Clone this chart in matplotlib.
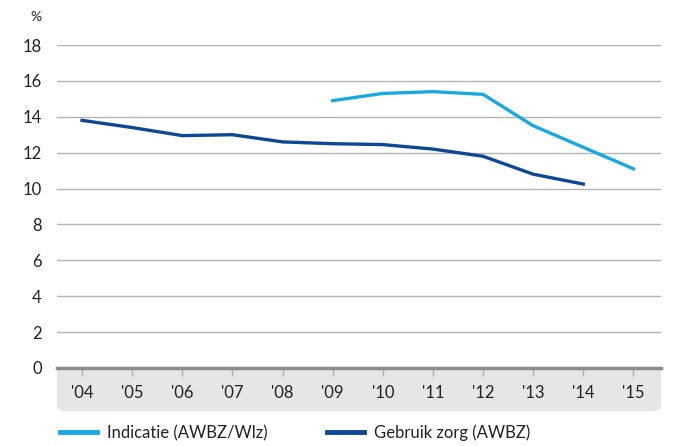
import matplotlib
matplotlib.use("Agg")
import matplotlib.pyplot as plt
from matplotlib.patches import FancyBboxPatch
from matplotlib.lines import Line2D

plt.rcParams["font.family"] = ["Lato", "DejaVu Sans"]

# --- data ------------------------------------------------------------------
YEARS = [2004, 2005, 2006, 2007, 2008, 2009, 2010, 2011, 2012, 2013, 2014, 2015]
YEAR_LABELS = ["'04", "'05", "'06", "'07", "'08", "'09", "'10", "'11", "'12", "'13", "'14", "'15"]

INDICATIE_YEARS = [2009, 2010, 2011, 2012, 2013, 2014, 2015]
INDICATIE = [14.9, 15.3, 15.4, 15.25, 13.5, 12.3, 11.1]

GEBRUIK_YEARS = [2004, 2005, 2006, 2007, 2008, 2009, 2010, 2011, 2012, 2013, 2014]
GEBRUIK = [13.8, 13.4, 12.95, 13.0, 12.6, 12.5, 12.45, 12.2, 11.8, 10.8, 10.25]

LIGHT = "#17a9e0"
DARK = "#0c4893"

W, H = 673, 446
fig = plt.figure(figsize=(W / 100, H / 100), dpi=100)
left, right, bottom, top = 57, 661, 368, 45
ax = fig.add_axes([left / W, 1 - bottom / H, (right - left) / W, (bottom - top) / H])

# gray band under the x axis with rounded bottom corners
band = FancyBboxPatch((left / W, 1 - 411 / H), (right - left) / W, 60 / H,
                      boxstyle="round,pad=0,rounding_size=0.012",
                      transform=fig.transFigure, facecolor="#e6e6e6",
                      edgecolor="none", zorder=-5)
fig.patches.append(band)

ax.plot(INDICATIE_YEARS, INDICATIE, color=LIGHT, lw=2.4, solid_joinstyle="round", zorder=3)
ax.plot(GEBRUIK_YEARS, GEBRUIK, color=DARK, lw=2.4, solid_joinstyle="round", zorder=3)

ax.set_xlim(2003.5, 2015.55)
ax.set_ylim(0, 18)
ax.set_yticks(range(0, 19, 2))
ax.set_xticks(YEARS)
ax.set_xticklabels(YEAR_LABELS)
ax.grid(axis="y", color="#b4b4b4", lw=1)
ax.set_axisbelow(True)
for side in ["top", "right", "left"]:
    ax.spines[side].set_visible(False)
ax.spines["bottom"].set_color("#8c8c8c")
ax.spines["bottom"].set_linewidth(2.5)
ax.spines["bottom"].set_zorder(4)

ax.tick_params(axis="y", length=0, pad=11, labelsize=12, labelcolor="#222222")
ax.tick_params(axis="x", direction="out", length=6, width=1, color="#b0b0b0",
               pad=6, labelsize=12, labelcolor="#222222")

fig.text(30 / W, 1 - 17 / H, "%", fontsize=10, color="#222222", va="center", ha="left")

# legend
handles = [Line2D([], [], color=LIGHT, lw=3.5), Line2D([], [], color=DARK, lw=3.5)]
fig.legend(handles, ["Indicatie (AWBZ/Wlz)", "Gebruik zorg (AWBZ)"],
           loc="center left", bbox_to_anchor=(45 / W, 1 - 433 / H), ncol=2,
           frameon=False, fontsize=12, handlelength=2.2, handletextpad=0.6,
           columnspacing=3.6, labelcolor="#222222")

fig.savefig("out.png", dpi=100)
